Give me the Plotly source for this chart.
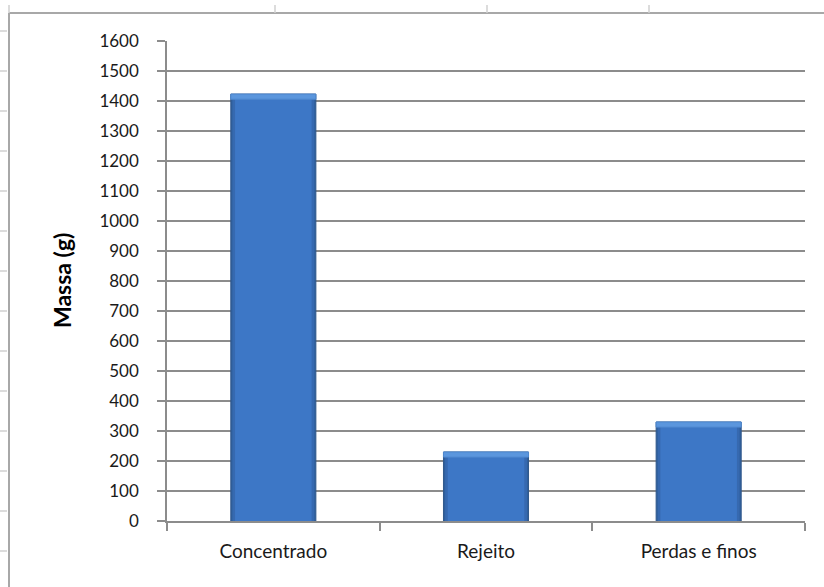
import plotly.graph_objects as go

categories = ["Concentrado", "Rejeito", "Perdas e finos"]
massa = [1423, 230, 330]
y_ticks = list(range(0, 1700, 100))

W, H = 824, 587
L, R, T, B = 167, 19, 41, 66
pw, ph = W - L - R, H - T - B

def px(x):
    return (x - L) / pw

def py(y):
    return (H - B - y) / ph

fig = go.Figure()
# bar body (darker edges)
fig.add_trace(go.Bar(x=categories, y=massa, width=0.4,
                     marker=dict(color="#2f5f9c", line=dict(color="#30588c", width=1)),
                     hoverinfo="skip", showlegend=False))
fig.add_trace(go.Bar(x=categories, y=massa, width=0.385,
                     marker=dict(color="#3669b0", line=dict(width=0)),
                     hoverinfo="skip", showlegend=False))
# lighter inner body
fig.add_trace(go.Bar(x=categories, y=massa, width=0.36,
                     marker=dict(color="#3d77c6", line=dict(width=0)),
                     showlegend=False))
# top bevel highlight
bevel = 17
fig.add_trace(go.Bar(x=categories, y=[bevel] * len(massa), base=[v - bevel for v in massa], width=0.4,
                     marker=dict(color="#5b96dd", line=dict(color="#4f88cf", width=1)),
                     hoverinfo="skip", showlegend=False))

fig.update_layout(
    width=W, height=H,
    margin=dict(l=L, r=R, t=T, b=B),
    paper_bgcolor="white", plot_bgcolor="white",
    barmode="overlay",
    font=dict(family="Lato, Calibri, sans-serif", color="#1a1a1a"),
    xaxis=dict(
        showgrid=False, showline=True, linecolor="#8c8c8c", linewidth=1.5,
        ticks="outside", tickson="boundaries", ticklen=8, tickcolor="#8c8c8c", tickwidth=1.5,
        tickfont=dict(size=19, family="Lato, sans-serif", color="#1a1a1a"),
        ticklabelstandoff=12,
    ),
    yaxis=dict(
        range=[0, 1600], tickvals=y_ticks, ticktext=[str(v) for v in y_ticks],
        showgrid=True, gridcolor="#8c8c8c", gridwidth=1.5,
        showline=True, linecolor="#8c8c8c", linewidth=1.5,
        ticks="outside", ticklen=8, tickcolor="#8c8c8c", tickwidth=1.5,
        tickfont=dict(size=17, family="Lato, sans-serif", color="#1a1a1a"),
        ticklabelstandoff=15,
        zeroline=False,
    ),
    annotations=[dict(
        text="<b>Massa (g)</b>", x=px(62), y=py(281), xref="paper", yref="paper",
        textangle=-90, showarrow=False, font=dict(size=23, family="Lato, sans-serif", color="#000000"),
        xanchor="center", yanchor="middle",
    )],
)

shapes = []
# outer chart frame (left and top)
shapes.append(dict(type="line", xref="paper", yref="paper", x0=px(9), x1=px(W + 5), y0=py(13), y1=py(13),
                   line=dict(color="#a8a8a8", width=2)))
shapes.append(dict(type="line", xref="paper", yref="paper", x0=px(9), x1=px(9), y0=py(13), y1=py(H + 5),
                   line=dict(color="#a8a8a8", width=2)))
# spreadsheet header ticks
for xx in [9, 275, 487, 649]:
    shapes.append(dict(type="line", xref="paper", yref="paper", x0=px(xx), x1=px(xx), y0=py(5), y1=py(13),
                       line=dict(color="#d0d0d0", width=1.5)))
for yy in range(31, 587, 40):
    shapes.append(dict(type="line", xref="paper", yref="paper", x0=px(0), x1=px(7), y0=py(yy), y1=py(yy),
                       line=dict(color="#d0d0d0", width=1.5)))
fig.update_layout(shapes=shapes)

fig.write_html("out.html")
